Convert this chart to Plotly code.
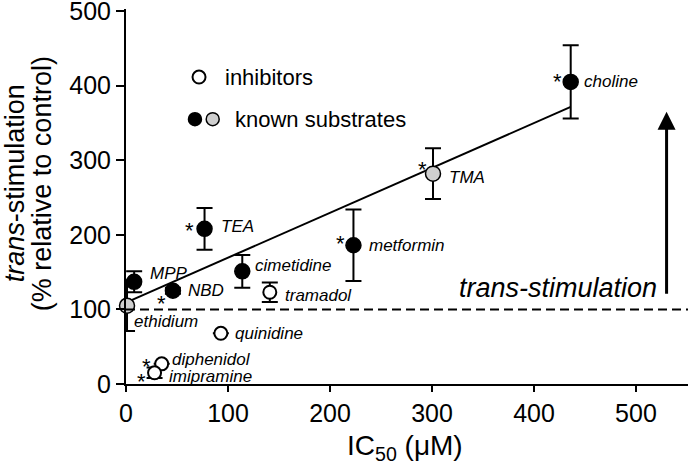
import numpy as np
import plotly.graph_objects as go

# ---------------- data ----------------
sub_names = ["ethidium", "MPP", "NBD", "TEA", "cimetidine", "metformin", "TMA", "choline"]
sub_ic50 = [1, 8, 46, 77, 114, 223, 301, 436]
sub_trans = [105, 137, 125, 208, 151, 186, 282, 405]
sub_err = [34, 14, 4, 28, 22, 48, 34, 49]
sub_gray = [True, False, False, False, False, False, True, False]
sub_star = [False, False, True, True, False, True, True, True]

inh_names = ["tramadol", "quinidine", "diphenidol", "imipramine"]
inh_ic50 = [141, 93, 35, 28]
inh_trans = [123, 68, 27, 15]
inh_err = [13, 0, 0, 7]
inh_star = [False, False, True, True]

x_ticks = [0, 100, 200, 300, 400, 500]
y_ticks = [0, 100, 200, 300, 400, 500]
control_level = 100

# ---------------- layout helpers (positions / styles) ----------------
FONT = "Arial, Liberation Sans, Helvetica, sans-serif"
label_off = {  # pixel offsets of labels from their point (dx, dy up)
    "ethidium": (5, -16, "left"), "MPP": (14, 8, "left"), "NBD": (13, 0, "left"),
    "TEA": (14, 2, "left"), "cimetidine": (11, 6, "left"), "metformin": (14, 0, "left"),
    "TMA": (14, -4, "left"), "choline": (11, 0, "left"), "tramadol": (13, -3, "left"),
    "quinidine": (12, 0, "left"), "diphenidol": (8, 4, "left"), "imipramine": (12, -4, "left"),
}
star_off = {
    "NBD": (-11, -8), "TEA": (-15, 3), "metformin": (-13, 7), "TMA": (-11, 9),
    "choline": (-13, 5), "diphenidol": (-15, 2), "imipramine": (-13, -4),
}

fig = go.Figure()

# regression line through known substrates
slope, icpt = np.polyfit(sub_ic50, sub_trans, 1)
xl = np.array([min(sub_ic50), max(sub_ic50)])
fig.add_trace(go.Scatter(x=xl, y=slope * xl + icpt, mode="lines",
                         line=dict(color="black", width=2), hoverinfo="skip", showlegend=False))

# substrates
fig.add_trace(go.Scatter(
    x=sub_ic50, y=sub_trans, mode="markers",
    error_y=dict(type="data", array=sub_err, color="black", thickness=2, width=8),
    marker=dict(size=15, color=["#cfcfcf" if g else "black" for g in sub_gray],
                line=dict(color="black", width=1.5)),
    showlegend=False, cliponaxis=False))

# inhibitors
fig.add_trace(go.Scatter(
    x=inh_ic50, y=inh_trans, mode="markers",
    error_y=dict(type="data", array=inh_err, color="black", thickness=2, width=8),
    marker=dict(size=13, color="white", line=dict(color="black", width=2)),
    showlegend=False, cliponaxis=False))

ann = []
for names, xs, ys, stars in [(sub_names, sub_ic50, sub_trans, sub_star),
                             (inh_names, inh_ic50, inh_trans, inh_star)]:
    for n, xv, yv, s in zip(names, xs, ys, stars):
        dx, dy, xa = label_off[n]
        ann.append(dict(x=xv, y=yv, xref="x", yref="y", text=f"<i>{n}</i>", showarrow=False,
                        xanchor=xa, yanchor="middle", xshift=dx, yshift=dy,
                        font=dict(family=FONT, size=17, color="black")))
        if s:
            sx, sy = star_off[n]
            ann.append(dict(x=xv, y=yv, xref="x", yref="y", text="*", showarrow=False,
                            xanchor="center", yanchor="middle", xshift=sx, yshift=sy - 5,
                            font=dict(family=FONT, size=22, color="black")))

# trans-stimulation arrow and text
ann.append(dict(x=530, y=365, ax=530, ay=119, xref="x", yref="y", axref="x", ayref="y",
                showarrow=True, arrowhead=2, arrowsize=1.2, arrowwidth=3, arrowcolor="black", text=""))
ann.append(dict(x=530, y=129, xref="x", yref="y", text="<i>trans-stimulation</i>", showarrow=False,
                xanchor="right", yanchor="middle", xshift=-8,
                font=dict(family=FONT, size=27, color="black")))

# legend text
ann.append(dict(x=95, y=411.5, xref="x", yref="y", text="inhibitors", showarrow=False,
                xanchor="left", yanchor="middle", font=dict(family=FONT, size=22, color="black")))
ann.append(dict(x=105, y=355, xref="x", yref="y", text="known substrates", showarrow=False,
                xanchor="left", yanchor="middle", font=dict(family=FONT, size=22, color="black")))

# axis titles (y title as two rotated lines)
ann.append(dict(x=-0.196, y=0.535, xref="paper", yref="paper", textangle=-90,
                text="<i>trans</i>-stimulation", showarrow=False,
                xanchor="center", yanchor="middle", font=dict(family=FONT, size=27, color="black")))
ann.append(dict(x=-0.148, y=0.535, xref="paper", yref="paper", textangle=-90,
                text="(% relative to control)", showarrow=False,
                xanchor="center", yanchor="middle", font=dict(family=FONT, size=27, color="black")))
ann.append(dict(x=0.496, y=-0.169, xref="paper", yref="paper",
                text="IC<sub>50</sub> (μM)", showarrow=False,
                xanchor="center", yanchor="middle", font=dict(family=FONT, size=28, color="black")))

shapes = [
    dict(type="line", xref="paper", yref="y", x0=0, x1=1, y0=control_level, y1=control_level,
         line=dict(color="black", width=2, dash="9px,5px")),
]
# legend symbols
for cx, cy, fill, lw in [(71.6, 411.5, "white", 2), (67.6, 355, "black", 1.5), (85, 355, "#cfcfcf", 1.5)]:
    shapes.append(dict(type="circle", xref="x", yref="y", xsizemode="pixel", ysizemode="pixel",
                       xanchor=cx, yanchor=cy, x0=-6.5, x1=6.5, y0=-6.5, y1=6.5,
                       fillcolor=fill, line=dict(color="black", width=lw)))

fig.update_layout(
    width=690, height=468, margin=dict(l=126, r=2, t=9, b=84, autoexpand=False),
    paper_bgcolor="white", plot_bgcolor="white",
    font=dict(family=FONT, color="black"),
    annotations=ann, shapes=shapes, showlegend=False,
    xaxis=dict(range=[0, 551], tickmode="array", tickvals=x_ticks, ticktext=[str(v) for v in x_ticks],
               showgrid=False, zeroline=False, automargin=False, ticklabeloverflow="allow",
               showline=True, linecolor="black", linewidth=2, ticks="outside", ticklen=6,
               tickwidth=2, tickcolor="black", tickfont=dict(size=25, family=FONT)),
    yaxis=dict(range=[0, 502.7], tickmode="array", tickvals=y_ticks, ticktext=[str(v) for v in y_ticks],
               showgrid=False, zeroline=False, automargin=False, ticklabeloverflow="allow",
               showline=True, linecolor="black", linewidth=2, ticks="outside", ticklen=8,
               tickwidth=2, tickcolor="black", tickfont=dict(size=25, family=FONT)),
)

fig.write_html("out.html", config={"displayModeBar": False},
               post_script="document.body.style.margin='0';")
